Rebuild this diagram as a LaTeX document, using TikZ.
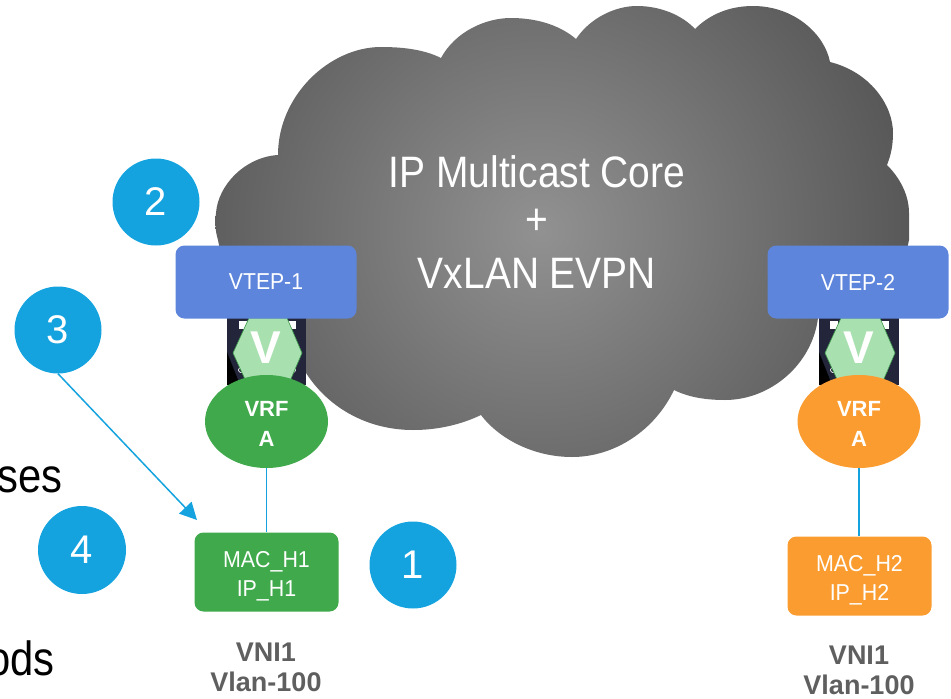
\documentclass[tikz,border=0pt]{standalone}
\usepackage{fontspec}
\setmainfont{Liberation Sans}
\usetikzlibrary{shapes.geometric,arrows.meta}
\definecolor{badge}{HTML}{14A3DF}
\definecolor{vtepblue}{HTML}{5E85DC}
\definecolor{vrfgreen}{HTML}{3FA94B}
\definecolor{vrforange}{HTML}{FA9C30}
\definecolor{hexgreen}{HTML}{A9E0B0}
\definecolor{hexedge}{HTML}{3F9A4E}
\definecolor{lbl}{HTML}{5F5F5F}
\definecolor{chassis}{HTML}{23263A}
\definecolor{cloudmid}{gray}{0.57}
\definecolor{cloudout}{gray}{0.26}
\pgfdeclareradialshading{cloudshade}{\pgfpoint{0bp}{0bp}}{color(0bp)=(cloudmid); color(29bp)=(cloudout); color(50bp)=(cloudout)}
\newcommand\narrow[2]{\scalebox{#1}[1]{#2}}
\newcommand\dropby[1]{\rule{0pt}{#1}}
\tikzset{
 x=1pt,y=-1pt,
 badgecirc/.style={circle,fill=badge,text=white,minimum size=#1,inner sep=0pt,font=\fontsize{40}{40}\selectfont},
 vtep/.style={rectangle,rounded corners=9pt,fill=vtepblue,text=white,minimum width=181pt,minimum height=73pt,font=\fontsize{23}{23}\selectfont},
 vrf/.style={ellipse,fill=#1,text=white,minimum width=123pt,minimum height=93pt,inner sep=0pt,align=center,font=\fontsize{22}{30}\selectfont\bfseries},
 mac/.style={rectangle,rounded corners=9pt,fill=#1,text=white,minimum width=144pt,minimum height=79pt,inner sep=0pt,align=center,font=\fontsize{23}{29}\selectfont},
 vee/.style={text=white,inner sep=0pt,font=\fontsize{46}{46}\selectfont\bfseries},
 hexfill/.style={fill=hexgreen,draw=hexedge,line width=.6pt},
 vni/.style={text=lbl,align=center,font=\fontsize{27}{30}\selectfont\bfseries},
 cuttext/.style={anchor=base east,inner sep=0pt,text=black,font=\fontsize{48}{48}\selectfont},
 coretext/.style={text=white,font=\fontsize{44}{44}\selectfont},
 link/.style={draw=badge,line width=1.5pt}
}
\begin{document}
\begin{tikzpicture}
\useasboundingbox (0,0) rectangle (951,699);
% cloud
\begin{scope}
\clip (278,155) .. controls (278,95) and (330,47) .. (381,47)
 .. controls (405,47) and (425,50) .. (441,58)
 .. controls (455,32) and (485,18) .. (511,18)
 .. controls (540,18) and (562,27) .. (576,39)
 .. controls (590,18) and (615,6) .. (637,6)
 .. controls (660,6) and (682,15) .. (695,29)
 .. controls (710,14) and (730,6) .. (753,6)
 .. controls (795,6) and (825,35) .. (830,62)
 .. controls (870,72) and (893,105) .. (893,133)
 .. controls (893,145) and (891,155) .. (887,165)
 .. controls (900,178) and (909,195) .. (909,213)
 .. controls (909,222) and (909,232) .. (909,240)
 .. controls (900,290) and (850,300) .. (818,318)
 .. controls (812,365) and (770,400) .. (725,400)
 .. controls (705,400) and (688,397) .. (674,390)
 .. controls (655,430) and (615,457) .. (572,457)
 .. controls (535,457) and (500,440) .. (481,415)
 .. controls (460,425) and (437,430) .. (413,430)
 .. controls (370,430) and (330,410) .. (306,373)
 .. controls (260,330) and (225,280) .. (218,240)
 .. controls (215,230) and (215,222) .. (216,213)
 .. controls (218,185) and (245,157) .. (278,155) -- cycle;
\shade[shading=cloudshade] (100,-200) rectangle (980,660);
\end{scope}
\node[coretext] (coretitle) at (537,172) {\narrow{.885}{IP Multicast Core}};
\node[coretext] (plus) at (537,222) {\narrow{.885}{+}};
\node[coretext] (evpn) at (537,273) {\narrow{.885}{VxLAN EVPN}};
% device behind the left hexagon
\fill[chassis] (227,310) rectangle (306,385);
\fill[black] (227,352) -- (240,385) -- (227,385) -- cycle;
\fill[white] (239,321) rectangle (247,329);
\fill[white] (288,321) rectangle (296,329);
\draw[white,line width=.7pt] (241,370) circle (2.5) (293,370) circle (2.5);
\draw[hexfill] (233,353) -- (249,318) -- (287,318) -- (302,353) -- (287,388) -- (249,388) -- cycle;
\node[vee] (va) at (266,348) {V};
% device behind the right hexagon
\fill[chassis] (819,310) rectangle (899,385);
\fill[black] (819,352) -- (832,385) -- (819,385) -- cycle;
\fill[white] (830,321) rectangle (838,329);
\fill[white] (881,321) rectangle (889,329);
\draw[white,line width=.7pt] (833,370) circle (2.5) (885,370) circle (2.5);
\draw[hexfill] (825,353) -- (841,318) -- (880,318) -- (895,353) -- (880,388) -- (841,388) -- cycle;
\node[vee] (vb) at (859,348) {V};
\node[vtep] (vtepa) at (266,282) {\narrow{.92}{VTEP-1}};
\node[vtep] (vtepb) at (858,282) {\narrow{.92}{VTEP-2}};
\node[vrf=vrfgreen] (vrfa) at (266.5,421.5) {\dropby{20pt}VRF\\A};
\node[vrf=vrforange] (vrfb) at (859,421.5) {\dropby{20pt}VRF\\A};
\node[mac=vrfgreen] (maca) at (266.5,572) {\dropby{24pt}\narrow{.93}{MAC\_H1}\\\narrow{.93}{IP\_H1}};
\node[mac=vrforange] (macb) at (859.5,576) {\dropby{24pt}\narrow{.93}{MAC\_H2}\\\narrow{.93}{IP\_H2}};
\draw[link] (vrfa.south) -- (vrfa.south |- maca.north);
\draw[link] (vrfb.south) -- (vrfb.south |- macb.north);
\node[vni] (vnia) at (266,667) {VNI1\\Vlan-100};
\node[vni] (vnib) at (859,670) {VNI1\\Vlan-100};
\node[badgecirc=87pt] (b2) at (156,202) {2};
\node[badgecirc=87pt] (b3) at (58,330) {3};
\node[badgecirc=88pt] (b4) at (82,550) {4};
\node[badgecirc=87pt] (b1) at (413,565) {1};
\coordinate (arrowend) at (197,520);
\draw[link,-{Triangle[length=17pt,width=17pt]}] (b3.south) -- (arrowend);
\node[cuttext] (ses) at (63,492) {\narrow{.87}{ses}};
\node[cuttext] (ods) at (55,675) {\narrow{.87}{ods}};
\end{tikzpicture}
\end{document}
